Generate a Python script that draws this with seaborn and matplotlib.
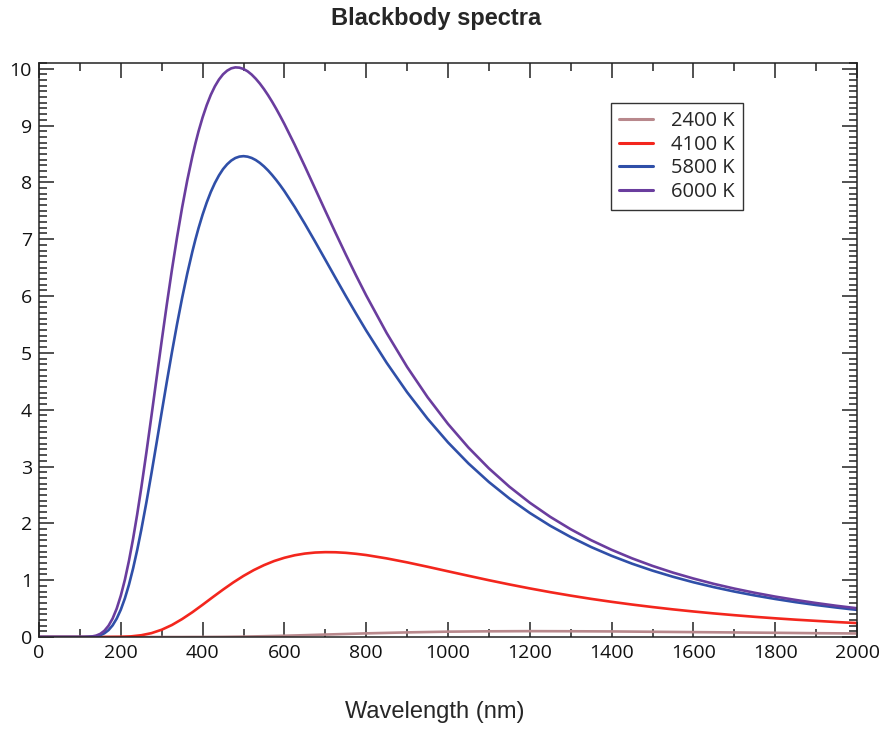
import matplotlib
matplotlib.use("Agg")
import matplotlib.pyplot as plt
from matplotlib.ticker import MultipleLocator
import seaborn as sns
import pandas as pd

# Wavelength samples (nm)
wl_hot = [0, 100, 110, 120, 130, 140, 150, 160, 170, 180, 190, 200, 210, 220, 230, 240,
          250, 262.5, 275, 287.5, 300, 312.5, 325, 337.5, 350, 362.5, 375, 382.5, 390,
          400, 410, 420, 430, 440, 450, 460, 470, 480, 490, 500,
          510, 520, 530, 540, 550, 560, 570, 580, 590, 600,
          625, 650, 675, 700, 725, 750, 775, 800, 850, 900, 950,
          1000, 1050, 1100, 1150, 1200, 1250, 1300, 1350, 1400, 1450, 1500,
          1550, 1600, 1650, 1700, 1750, 1800, 1850, 1900, 1950, 2000]

t6000 = [0, 0.000, 0.001, 0.003, 0.010, 0.025, 0.056, 0.111, 0.198, 0.325, 0.500, 0.727,
         1.008, 1.343, 1.727, 2.155,
         2.621, 3.243, 3.893, 4.555, 5.212, 5.852, 6.462, 7.033, 7.560, 8.036, 8.459, 8.687,
         8.896,
         9.143, 9.357, 9.539, 9.689, 9.809, 9.901, 9.965, 10.006, 10.023, 10.018, 9.995,
         9.954, 9.896, 9.823, 9.738, 9.641, 9.534, 9.418, 9.294, 9.162, 9.026,
         8.664, 8.282, 7.891, 7.499, 7.112, 6.732, 6.364, 6.010, 5.349, 4.752, 4.220,
         3.749, 3.333, 2.967, 2.645, 2.363, 2.114, 1.896, 1.703, 1.534, 1.384, 1.251,
         1.133, 1.029, 0.935, 0.852, 0.778, 0.711, 0.652, 0.598, 0.549, 0.506]

t5800 = [0, 0.000, 0.000, 0.002, 0.005, 0.014, 0.032, 0.066, 0.121, 0.205, 0.324, 0.481,
         0.680, 0.922, 1.205, 1.527,
         1.883, 2.366, 2.882, 3.416, 3.956, 4.491, 5.009, 5.504, 5.968, 6.395, 6.782, 6.996,
         7.193,
         7.432, 7.644, 7.830, 7.988, 8.122, 8.233, 8.318, 8.383, 8.428, 8.453, 8.461,
         8.452, 8.429, 8.392, 8.342, 8.281, 8.210, 8.129, 8.041, 7.946, 7.845,
         7.569, 7.270, 6.958, 6.639, 6.319, 6.002, 5.693, 5.392, 4.825, 4.307, 3.841,
         3.424, 3.054, 2.727, 2.438, 2.183, 1.957, 1.759, 1.583, 1.428, 1.290, 1.168,
         1.060, 0.963, 0.877, 0.800, 0.731, 0.669, 0.613, 0.563, 0.518, 0.477]

wl_red = [0, 100, 150, 200, 225, 250, 275, 300, 325, 350, 375, 400, 425, 450, 475, 500, 525,
          550, 575, 600, 625, 650, 675, 700, 725, 750, 775, 800, 850, 900, 950, 1000, 1050,
          1100, 1150, 1200, 1250, 1300, 1350, 1400, 1450, 1500, 1550, 1600, 1650, 1700,
          1750, 1800, 1850, 1900, 1950, 2000]

t4100 = [0, 0, 0.000, 0.003, 0.011, 0.031, 0.068, 0.128, 0.211, 0.316, 0.436, 0.567, 0.702,
         0.834, 0.960, 1.075, 1.177, 1.264, 1.337, 1.394, 1.438, 1.468, 1.486, 1.493, 1.491,
         1.481, 1.464, 1.442, 1.383, 1.313, 1.236, 1.156, 1.077,
         0.999, 0.925, 0.855, 0.789, 0.728, 0.671, 0.619, 0.571, 0.527, 0.486, 0.449, 0.415,
         0.384, 0.355, 0.329, 0.305, 0.284, 0.263, 0.245]

wl_cool = [0, 100, 200, 300, 350, 375, 400, 425, 450, 475, 500, 550, 600, 650, 700, 750, 800,
           900, 1000, 1100, 1200, 1300, 1400, 1500, 1600, 1700, 1800, 1900, 2000]

t2400 = [0, 0, 0, 0, 0.000, 0.001, 0.001, 0.002, 0.003, 0.005, 0.007, 0.014, 0.022, 0.032,
         0.043, 0.053, 0.064, 0.081, 0.094, 0.100, 0.103, 0.101, 0.098, 0.092, 0.086, 0.080,
         0.074, 0.067, 0.062]

series_labels = ["2400 K", "4100 K", "5800 K", "6000 K"]
series_x = [wl_cool, wl_red, wl_hot, wl_hot]
series_values = [t2400, t4100, t5800, t6000]
colors = ["#b8888c", "#f3261d", "#2f4fa8", "#6a3d9e"]

frames = []
for lab, xs, vals in zip(series_labels, series_x, series_values):
    frames.append(pd.DataFrame({"wl": xs, "val": vals, "T": lab}))
df = pd.concat(frames, ignore_index=True)

sns.set_style("white")
plt.rcParams["font.family"] = ["Open Sans", "DejaVu Sans"]

fig = plt.figure(figsize=(8.85, 7.29), dpi=100)
ax = fig.add_axes([39 / 885, 1 - 637 / 729, (857 - 39) / 885, (637 - 63) / 729])

sns.lineplot(data=df, x="wl", y="val", hue="T", hue_order=series_labels,
             palette=dict(zip(series_labels, colors)), linewidth=1.9,
             sort=False, ax=ax, legend=True)

ax.set_xlim(0, 2000)
ax.set_ylim(0, 10.1)
ax.set_xlabel("")
ax.set_ylabel("")
ax.xaxis.set_major_locator(MultipleLocator(200))
ax.xaxis.set_minor_locator(MultipleLocator(100))
ax.yaxis.set_major_locator(MultipleLocator(1))
ax.yaxis.set_minor_locator(MultipleLocator(0.1))
ax.tick_params(which="both", direction="in", top=True, right=True,
               bottom=True, left=True, color="#222222", width=1.1)
ax.tick_params(which="major", length=11, labelsize=14, labelcolor="#111111")
ax.tick_params(axis="x", which="major", pad=5)
ax.tick_params(axis="y", which="major", pad=5)
ax.tick_params(which="minor", length=5.5)
for s in ax.spines.values():
    s.set_color("#222222")
    s.set_linewidth(1.1)

leg = ax.legend(loc="upper left", bbox_to_anchor=(0.699, 0.930), borderaxespad=0,
                fontsize=14.5, frameon=True, fancybox=False, edgecolor="black",
                handlelength=1.7, handletextpad=0.9, labelspacing=0.18,
                borderpad=0.4)
leg.get_frame().set_linewidth(1.0)
for line in leg.get_lines():
    line.set_linewidth(2.2)

fig.text(0.4927, 0.975, "Blackbody spectra", ha="center", va="center",
         fontsize=17, fontweight="bold", family=["Liberation Sans", "DejaVu Sans"])
fig.text(0.4915, 0.0233, "Wavelength (nm)", ha="center", va="center",
         fontsize=17, family=["Liberation Sans", "DejaVu Sans"])

fig.savefig("out.png", dpi=100)
